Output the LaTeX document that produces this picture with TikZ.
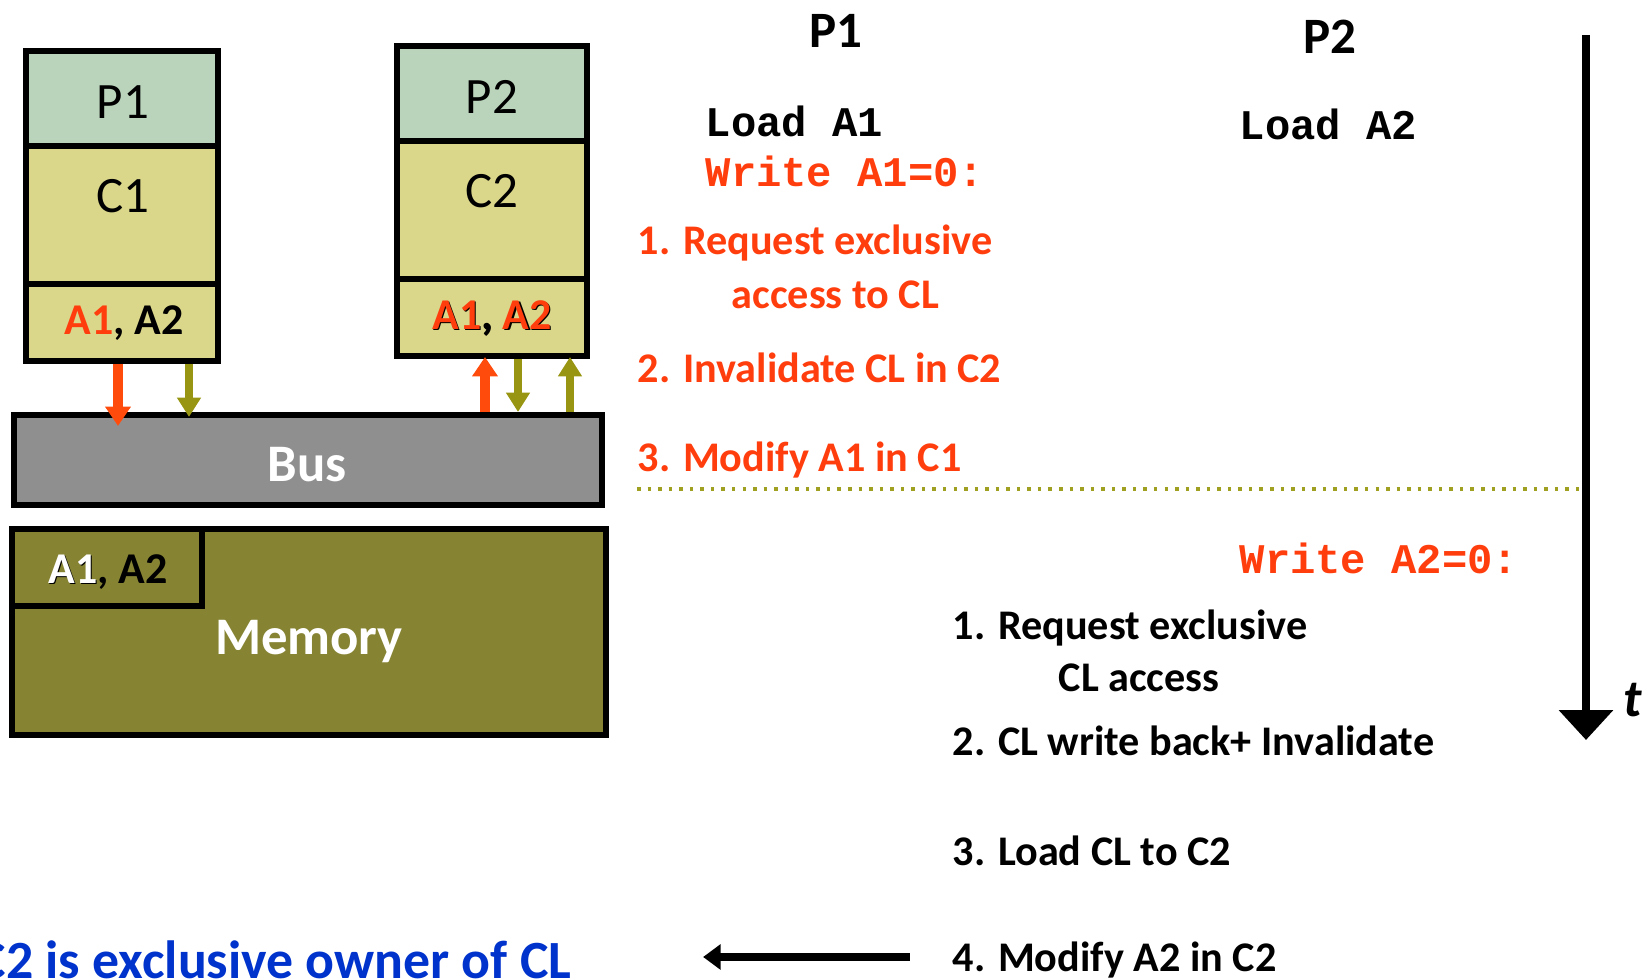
\documentclass[tikz,border=0pt]{standalone}
\usepackage{fontspec}
\setmainfont{Carlito}
\newfontfamily\codefont{Liberation Mono}
\usetikzlibrary{arrows.meta,positioning}
\definecolor{procgreen}{HTML}{BAD4BB}
\definecolor{cachekhaki}{HTML}{DAD78A}
\definecolor{busgray}{HTML}{8F8F8F}
\definecolor{memolive}{HTML}{868433}
\definecolor{hotred}{HTML}{FF3D0D}
\definecolor{hotorange}{HTML}{FF4C0C}
\definecolor{olivearr}{HTML}{979511}
\definecolor{ownblue}{HTML}{0033CC}
\definecolor{dotolive}{HTML}{A0A020}
\tikzset{
  cell/.style     = {draw, line width=1.6pt, inner sep=0pt},
  cellname/.style = {inner sep=0pt, font=\fontsize{14.5}{17}\selectfont},
  addr/.style     = {inner sep=0pt, font=\bfseries\fontsize{12.5}{14}\selectfont},
  big/.style      = {inner sep=0pt, text=white, font=\bfseries\fontsize{15}{18}\selectfont},
  hdr/.style      = {inner sep=0pt, font=\bfseries\fontsize{14.5}{17}\selectfont},
  code/.style     = {anchor=west, inner sep=0pt, font=\codefont\bfseries\fontsize{12}{14}\selectfont},
  stepred/.style  = {anchor=west, inner sep=0pt, text=hotred, font=\bfseries\fontsize{12}{14}\selectfont},
  stepblk/.style  = {anchor=west, inner sep=0pt, font=\bfseries\fontsize{12}{14}\selectfont},
  hotarrow/.style = {-{Triangle[width=7pt,length=5.5pt]}, line width=2.8pt, draw=hotorange},
  olvarrow/.style = {-{Triangle[width=6.5pt,length=5.5pt]}, line width=2.3pt, draw=olivearr},
  timeline/.style = {-{Triangle[width=15pt,length=8.5pt]}, line width=2.3pt},
  bigarrow/.style = {-{Triangle[width=7pt,length=5pt]}, line width=2.3pt},
}

\begin{document}
\begin{tikzpicture}[x=0.01cm, y=-0.01cm]
  \useasboundingbox (0,0) rectangle (1645,980);
  % processors and caches
  \node[cell, fill=procgreen, minimum width=1.92cm, minimum height=0.95cm] (p1) at (122,98.5) {};
  \node[cell, fill=cachekhaki, minimum width=1.92cm, minimum height=1.38cm] (c1) at (122,215) {};
  \node[cell, fill=cachekhaki, minimum width=1.92cm, minimum height=0.77cm] (c1a) at (122,322.5) {};
  \node[cell, fill=procgreen, minimum width=1.90cm, minimum height=0.95cm] (p2) at (492,93.5) {};
  \node[cell, fill=cachekhaki, minimum width=1.90cm, minimum height=1.38cm] (c2) at (492,210) {};
  \node[cell, fill=cachekhaki, minimum width=1.90cm, minimum height=0.77cm] (c2a) at (492,317.5) {};
  \node[cellname] (p1l) at (123,102) {P1};
  \node[cellname] (c1l) at (123,196) {C1};
  \node[cellname] (p2l) at (492,97) {P2};
  \node[cellname] (c2l) at (492,191) {C2};
  \node[addr] (c1al) at (124,323) {\textcolor{hotred}{A1}, A2};
  \node[addr] (c2ash) at (493.5,319.5) {A1, A2};
  \node[addr, text=hotred] (c2al) at (492,318) {A1\textcolor{black}{,} A2};
  % bus and memory
  \node[cell, fill=busgray, minimum width=5.88cm, minimum height=0.90cm] (bus) at (308,460) {};
  \node[big] (busl) at (307,465) {Bus};
  \node[cell, fill=memolive, minimum width=5.94cm, minimum height=2.06cm] (mem) at (309,632) {};
  \node[cell, fill=memolive, minimum width=1.90cm, minimum height=0.77cm] (memin) at (107,567.5) {};
  \node[addr] (memash) at (109.5,573.5) {A1\phantom{, A2}};
  \node[addr] (memal) at (108,572) {\textcolor{white}{A1}, A2};
  \node[big] (meml) at (309,642) {Memory};
  % bus traffic
  \coordinate (rq1) at (118,426);
  \coordinate (wb1) at (189,417);
  \coordinate (inv2) at (485,357);
  \coordinate (rq2) at (518,412);
  \coordinate (ld2) at (570,357);
  \draw[hotarrow] (rq1 |- c1a.south) -- (rq1);
  \draw[olvarrow] (wb1 |- c1a.south) -- (wb1);
  \draw[hotarrow] (inv2 |- bus.north) -- (inv2);
  \draw[olvarrow] (rq2 |- c2a.south) -- (rq2);
  \draw[olvarrow] (ld2 |- bus.north) -- (ld2);
  % P1 column
  \node[hdr] (h1) at (836,31) {P1};
  \node[code] (ld1) at (705,121) {Load A1};
  \node[code, text=hotred] (wr1) at (705,171) {Write A1=0:};
  \node[stepred] (s1a) at (637,243) {1. Request exclusive};
  \node[stepred] (s1b) at (731,295) {access to CL};
  \node[stepred] (s1c) at (637,368) {2. Invalidate CL in C2};
  \node[stepred] (s1d) at (637,460) {3. Modify A1 in C1};
  \draw[dotolive, dotted, line width=1pt] (637,489) coordinate (dl) -- (1589,489) coordinate (dr);
  % P2 column
  \node[hdr] (h2) at (1330,37) {P2};
  \node[code] (ld2t) at (1239,124) {Load A2};
  \node[code, text=hotred] (wr2) at (1239,558) {Write A2=0:};
  \node[stepblk] (s2a) at (952,628) {1. Request exclusive};
  \node[stepblk] (s2b) at (1058,678) {CL access};
  \node[stepblk] (s2c) at (952,741) {2. CL write back+ Invalidate};
  \node[stepblk] (s2d) at (952,851) {3. Load CL to C2};
  \node[stepblk] (s2e) at (952,960) {4. Modify A2 in C2};
  % time axis
  \coordinate (t0) at (1586,35);
  \coordinate (t1) at (1586,740);
  \draw[timeline] (t0) -- (t1);
  \node[inner sep=0pt, font=\bfseries\itshape\fontsize{15}{18}\selectfont] (tl) at (1633,700) {t};
  % result
  \node[anchor=east, inner sep=0pt, text=ownblue, font=\bfseries\fontsize{15.3}{18}\selectfont] (own) at (572,960) {C2 is exclusive owner of CL};
  \draw[bigarrow] ([xshift=-4.2mm,yshift=0.3mm]s2e.west) -- ([xshift=13.1mm,yshift=0.3mm]own.east);
\end{tikzpicture}
\end{document}
